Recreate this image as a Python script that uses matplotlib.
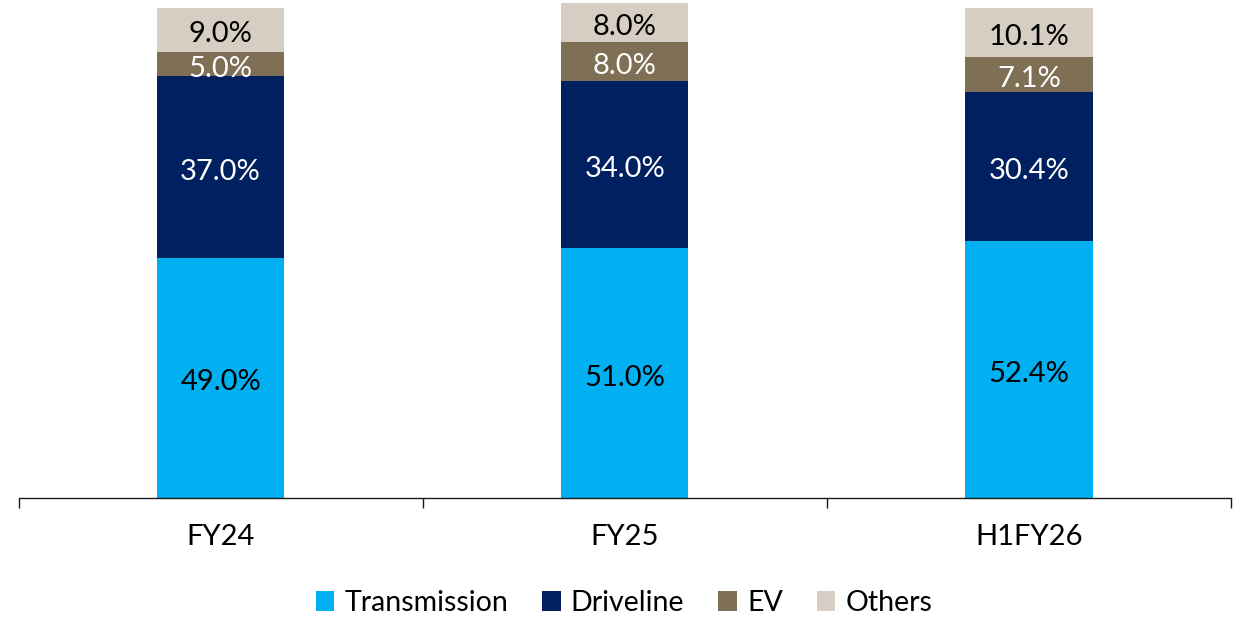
import matplotlib.pyplot as plt
import numpy as np

plt.rcParams['font.family'] = ['Lato', 'DejaVu Sans']

# Data
periods = ["FY24", "FY25", "H1FY26"]
transmission = [49.0, 51.0, 52.4]
driveline = [37.0, 34.0, 30.4]
ev = [5.0, 8.0, 7.1]
others = [9.0, 8.0, 10.1]

series = [
    ("Transmission", transmission, "#00B0F0", "black"),
    ("Driveline", driveline, "#002060", "white"),
    ("EV", ev, "#7F6F55", "white"),
    ("Others", others, "#D6CEC2", "black"),
]

fig = plt.figure(figsize=(12.48, 6.2), dpi=100)
ax = fig.add_axes([18.5 / 1248, (620 - 498) / 620, 1212.5 / 1248, 498 / 620])

x = np.arange(len(periods))
bottom = np.zeros(len(periods))
handles = []
for name, vals, color, tcolor in series:
    vals = np.array(vals)
    bars = ax.bar(x, vals, width=0.315, bottom=bottom, color=color, label=name)
    handles.append(bars)
    for xi, b, v in zip(x, bottom, vals):
        ax.annotate(f"{v:.1f}%", (xi, b + v / 2), xytext=(0, -1.5),
                    textcoords="offset points", ha="center",
                    va="center_baseline", fontsize=21, color=tcolor)
    bottom += vals

ax.set_xlim(-0.5, 2.5)
ax.set_ylim(0, 101.6)

for s in ["top", "right", "left"]:
    ax.spines[s].set_visible(False)
ax.spines["bottom"].set_color("#1a1a1a")
ax.spines["bottom"].set_linewidth(1.0)

ax.set_yticks([])
ax.set_xticks(x)
ax.set_xticklabels(periods, fontsize=21)
ax.tick_params(axis="x", which="major", length=0, pad=19)
ax.set_xticks([-0.5, 0.5, 1.5, 2.5], minor=True)
ax.tick_params(axis="x", which="minor", length=7.5, width=1.0, color="#1a1a1a")

fig.legend(handles=handles, loc="center", bbox_to_anchor=(0.5, (620 - 603) / 620),
           ncol=4, frameon=False, fontsize=20.5, handlelength=0.65, handleheight=0.65,
           handletextpad=0.35, columnspacing=1.2)

fig.savefig("out.png", dpi=100)
